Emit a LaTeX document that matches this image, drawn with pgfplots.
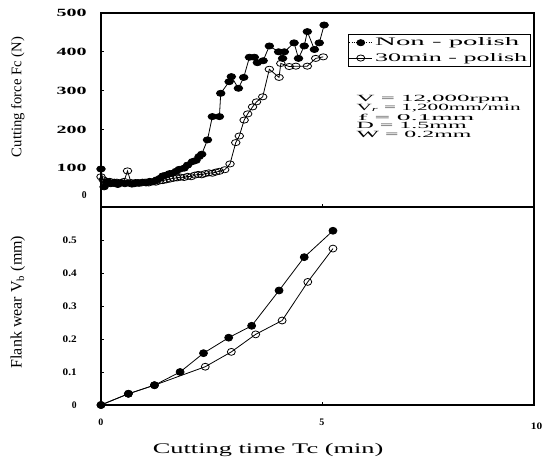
\documentclass[border=0pt]{standalone}
\usepackage{pgfplots}
\pgfplotsset{compat=1.18}
\usepackage{fontspec}
\setmainfont{Liberation Serif}

\newcommand\tlt[1]{\resizebox{22.5pt}{5.5pt}{\bfseries #1}}
\newcommand\tlb[1]{\resizebox{10.5pt}{5pt}{\bfseries #1}}
\newcommand\tlx[2]{\resizebox{#1}{4.9pt}{\bfseries #2}}

\pgfplotsset{
  base/.style={
    scale only axis, width=324.75pt,
    xmin=0, xmax=9.8,
    axis line style={line width=0.8pt},
    tick align=inside, major tick length=2.5pt,
    tick style={line width=0.5pt, black},
    xtick pos=lower, ytick pos=left,
    clip=false,
  },
  filled/.style={black, line width=0.6pt, mark=*, mark options={solid, fill=black, xscale=#1}},
  hollow/.style={black, line width=0.6pt, mark=o, mark options={solid, xscale=#1}},
}

\begin{document}
\begin{tikzpicture}
\begin{axis}[base, name=top, at={(0,0)}, anchor=north west,
  height=145.5pt, ymin=0, ymax=500,
  ytick={0,100,200,300,400,500},
  yticklabels={\smash{\raisebox{6.3pt}{\resizebox{3.6pt}{5.2pt}{\bfseries 0}}},\tlt{100},\tlt{200},\tlt{300},\tlt{400},\tlt{500}},
  yticklabel style={xshift=-7.2pt},
  xtick={0,5}, xticklabels={},
  ylabel={\fontsize{11}{13}\selectfont Cutting force Fc (N)},
  ylabel style={at={(axis description cs:-0.192,0.567)}, anchor=center},
  legend style={at={(0.993,0.892)}, anchor=north east, draw=black, line width=0.6pt, inner sep=0.5pt, row sep=0pt},
  legend cell align=left,
  mark size=2.3pt,
]
\addlegendimage{black, densely dotted, line width=0.6pt, mark=*, mark options={solid, fill=black, xscale=1.3}}
\addlegendentry{\resizebox{108pt}{6pt}{Non - polish}}
\addlegendimage{black, solid, line width=0.6pt, mark=o, mark options={solid, xscale=1.3}}
\addlegendentry{\resizebox{114pt}{6pt}{30min - polish}}

\addplot[hollow=1.4, forget plot] table {
x y
0.00 78
0.05 70
0.12 64
0.20 66
0.28 61
0.36 64
0.44 62
0.52 66
0.60 93
0.68 63
0.76 60
0.84 63
0.92 62
1.00 64
1.08 62
1.16 65
1.24 64
1.32 67
1.40 68
1.48 70
1.56 72
1.64 74
1.72 75
1.80 77
1.88 76
1.96 79
2.04 78
2.12 82
2.20 84
2.28 83
2.36 86
2.44 88
2.52 87
2.60 90
2.68 92
2.80 96
2.92 111
3.05 166
3.13 183
3.24 224
3.32 240
3.43 258
3.52 271
3.66 284
3.81 355
4.03 334
4.07 370
4.26 362
4.41 363
4.67 363
4.86 383
5.03 387
};
\addplot[filled=1.4, forget plot] table {
x y
0.00 98
0.07 52
0.14 66
0.22 60
0.30 64
0.38 58
0.46 63
0.54 60
0.62 62
0.70 59
0.78 63
0.86 61
0.94 64
1.02 62
1.10 66
1.18 65
1.26 70
1.34 74
1.40 80
1.47 82
1.55 86
1.62 87
1.70 92
1.77 97
1.88 100
1.96 108
2.07 117
2.15 120
2.22 130
2.28 136
2.41 173
2.52 233
2.68 233
2.71 293
2.90 323
2.95 336
3.11 306
3.23 334
3.36 386
3.47 386
3.54 372
3.67 377
3.81 415
4.02 400
4.11 383
4.15 400
4.37 423
4.47 383
4.60 415
4.67 452
4.83 406
4.94 423
5.05 469
};

\node[anchor=west, inner sep=0] at (axis cs:5.78,278) {\resizebox{114.75pt}{4.7pt}{V = 12,000rpm}};
\node[anchor=west, inner sep=0] at (axis cs:5.78,255) {\resizebox{123pt}{4.7pt}{V\textsubscript{\itshape r} = 1,200mm/min}};
\node[anchor=west, inner sep=0] at (axis cs:5.82,232) {\resizebox{87pt}{4.7pt}{f = 0.1mm}};
\node[anchor=west, inner sep=0] at (axis cs:5.78,210) {\resizebox{82.5pt}{4.7pt}{D = 1.5mm}};
\node[anchor=west, inner sep=0] at (axis cs:5.78,187) {\resizebox{86pt}{4.7pt}{W = 0.2mm}};
\end{axis}

\begin{axis}[base, at={(top.south west)}, anchor=north west,
  height=148.5pt, ymin=0, ymax=0.6,
  ytick={0,0.1,0.2,0.3,0.4,0.5},
  yticklabels={\resizebox{3.6pt}{5pt}{\bfseries 0},\tlb{0.1},\tlb{0.2},\tlb{0.3},\tlb{0.4},\tlb{0.5}},
  yticklabel style={xshift=-14.7pt},
  xtick={0,5}, xticklabels={\tlx{3.75pt}{0},\tlx{3.75pt}{5}},
  xticklabel style={yshift=-7pt},
  ylabel={\fontsize{12}{14}\selectfont Flank wear V\textsubscript{b} (mm)},
  ylabel style={at={(axis description cs:-0.192,0.52)}, anchor=center},
  xlabel={\scalebox{1.8}[1]{\fontsize{11}{13}\selectfont Cutting time Tc (min)}},
  xlabel style={at={(axis description cs:0.386,-0.227)}, anchor=center},
  mark size=2.6pt,
]
\addplot[hollow=1.15] table {
x y
0 0
0.62 0.034
1.21 0.06
2.36 0.116
2.95 0.161
3.50 0.214
4.10 0.256
4.68 0.373
5.25 0.474
};
\addplot[filled=1.15] table {
x y
0 0
0.62 0.034
1.21 0.06
1.79 0.10
2.32 0.157
2.89 0.204
3.41 0.24
4.03 0.347
4.60 0.448
5.25 0.528
};
\node[anchor=north, yshift=-10.3pt] at (axis cs:9.86,0) {\tlx{8.5pt}{10}};
\end{axis}

\pgfresetboundingbox
\useasboundingbox (-75.75pt,9.75pt) rectangle (332.25pt,-333pt);
\end{tikzpicture}
\end{document}
